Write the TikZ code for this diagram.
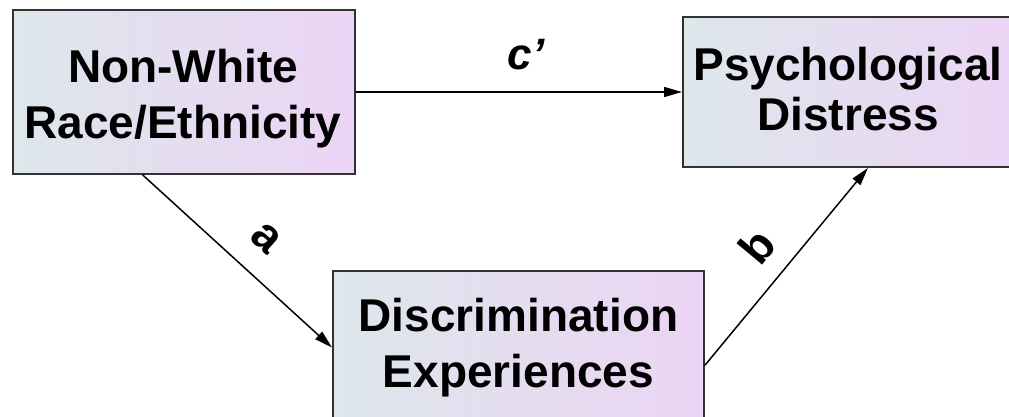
\documentclass[tikz,border=0pt]{standalone}
\usepackage{fontspec}
\setmainfont{Liberation Sans}
\usetikzlibrary{arrows.meta,calc}
\definecolor{boxL}{RGB}{221,231,236}
\definecolor{boxR}{RGB}{236,212,244}
\definecolor{edgec}{RGB}{50,50,50}
\begin{document}
\begin{tikzpicture}[x=1pt,y=-1pt,
  box/.style={draw=edgec, line width=2pt, left color=boxL, right color=boxR, inner sep=0pt},
  boxtext/.style={font=\bfseries\fontsize{46}{56}\selectfont, align=center, inner sep=0pt},
  arr/.style={line width=1.5pt, -{Triangle[length=18pt,width=10pt]}},
  lab/.style={font=\bfseries\fontsize{46}{52}\selectfont, inner sep=0pt}]
\useasboundingbox (0,0) rectangle (1009,417);
\clip (0,0) rectangle (1009,417);
\node[box, minimum width=342pt, minimum height=164pt] (n1) at (184,92) {};
\node[box, minimum width=330pt, minimum height=150pt] (n2) at (848,92) {};
\node[box, minimum width=371pt, minimum height=153pt] (n3) at (518.5,347.5) {};
\node[boxtext] (t1) at (183,98.5) {Non-White\\Race/Ethnicity};
\node[boxtext, font=\bfseries\fontsize{46}{50}\selectfont] (t2) at (848,89.5) {Psychological\\Distress};
\node[boxtext, font=\bfseries\fontsize{46}{56}\selectfont] (t3) at (518.5,348) {Discrimination\\Experiences};
\draw[arr] (n1.east) -- (n2.west);
\draw[arr] ($(n1.south west)!0.38!(n1.south east)$) -- (n3.west);
\draw[arr] ($(n3.north east)!0.614!(n3.south east)$) -- ($(n2.south west)!0.56!(n2.south east)$);
\node[lab, font=\bfseries\itshape\fontsize{44}{50}\selectfont] (lc) at (526,55) {c'};
\node[lab, rotate=-42.3] (la) at (266,238) {a};
\node[lab, rotate=50.2] (lb) at (757,246) {b};
\end{tikzpicture}
\end{document}
